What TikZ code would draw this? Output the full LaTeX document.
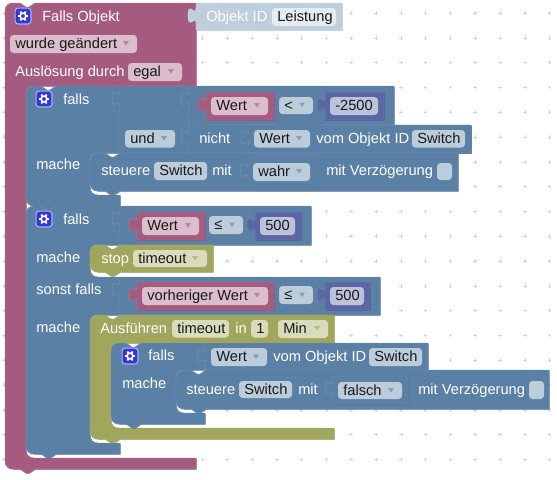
\documentclass[tikz,border=0pt]{standalone}
\usepackage{fontspec}
\setmainfont{Liberation Sans}
\definecolor{pu}{HTML}{A55B80}\definecolor{puL}{HTML}{B4738F}\definecolor{puD}{HTML}{8F4E6F}
\definecolor{bl}{HTML}{5B80A5}\definecolor{blL}{HTML}{7A97B4}\definecolor{blD}{HTML}{4E6F8F}
\definecolor{ol}{HTML}{A0A65B}\definecolor{olL}{HTML}{B0B575}\definecolor{olD}{HTML}{8A8F4E}
\definecolor{ma}{HTML}{5B67A5}\definecolor{maL}{HTML}{7D87B7}\definecolor{maD}{HTML}{495284}
\definecolor{sh}{HTML}{BFCEDC}\definecolor{shL}{HTML}{CFDAE5}\definecolor{shD}{HTML}{A9BBCD}
\definecolor{fpu}{HTML}{DBBDCC}\definecolor{fbl}{HTML}{BDCCDB}\definecolor{fol}{HTML}{D9DBBD}
\definecolor{fma}{HTML}{BDC2DB}\definecolor{fsh}{HTML}{E5EBF1}
\definecolor{gearblue}{HTML}{3535DC}\definecolor{gearrim}{HTML}{A9B4E6}
\tikzset{
  lab/.style={inner sep=0pt,anchor=base west,font=\fontsize{11}{13}\selectfont,text=white},
  flab/.style={lab,text=black!90},
  hi/.style={line width=.35pt},
  gridmark/.style={draw=black!16,line width=.45pt}
}
\newcommand\notchR[2]{-- (#1,#2) -- (#1+6,#2+4) -- (#1+9,#2+4) -- (#1+15,#2)}
\newcommand\notchL[2]{-- (#1+15,#2) -- (#1+9,#2+4) -- (#1+6,#2+4) -- (#1,#2)}
\newcommand\tabUp[2]{-- (#1,#2+20) .. controls (#1,#2+10) and (#1-8,#2+28) .. (#1-8,#2+12.5) .. controls (#1-8,#2-3) and (#1,#2+15) .. (#1,#2+5)}
\newcommand\blk[2]{%
  \fill[#1D,xshift=.4pt,yshift=-.4pt] #2;
  \filldraw[fill=#1,draw=#1L,hi] #2;}
\newcommand\valblk[5]{\blk{#1}{(#2,#4) -- (#3,#4) -- (#3,#5) -- (#2,#5) \tabUp{#2}{#4} -- cycle}}
\newcommand\stmt[5]{\blk{#1}{(#2,#4+8) .. controls (#2,#4+3) and (#2+3,#4) .. (#2+8,#4) \notchR{#2+15}{#4} -- (#3,#4) -- (#3,#5) \notchL{#2+15}{#5} -- (#2+8,#5) .. controls (#2+3,#5) and (#2,#5-3) .. (#2,#5-8) -- cycle}}
\newcommand\lab[4]{\node[lab] (#1) at (#2,#3+5) {#4};}
\newcommand\field[7]{%
  \fill[#6,rounded corners=2.6pt] (#2,#4) rectangle (#3,#5);
  \node[flab] (#1) at (#2+5,{(#4+#5)/2+4.7}) {#7};}
\newcommand\darr[3]{\fill[#3!75!white] (#1-3,#2-2) -- (#1+3,#2-2) -- (#1,#2+2.5) -- cycle;}
\newcommand\gear[2]{%
  \fill[gearrim,rounded corners=2.6pt] (#1-8.5,#2-8.5) rectangle (#1+8.5,#2+8.5);
  \fill[gearblue,rounded corners=2pt] (#1-7.3,#2-7.3) rectangle (#1+7.3,#2+7.3);
  \draw[white,line width=1.2pt] (#1,#2) circle[radius=2.9];
  \foreach \a in {0,60,...,300}{\draw[white,line width=1.35pt] ({#1+3.2*cos(\a)},{#2+3.2*sin(\a)}) -- ({#1+5.2*cos(\a)},{#2+5.2*sin(\a)});}}
\begin{document}
\begin{tikzpicture}[x=.75pt,y=-.75pt]
\useasboundingbox (0,0) rectangle (557,479);
\fill[white] (0,0) rectangle (557,479);
% workspace grid
\foreach \i in {0,...,22}{\foreach \j in {0,...,18}{
  \draw[gridmark] ({4+24.8*\i-1.8},{13+24.8*\j}) -- ({4+24.8*\i+1.8},{13+24.8*\j});
  \draw[gridmark] ({4+24.8*\i},{13+24.8*\j-1.8}) -- ({4+24.8*\i},{13+24.8*\j+1.8});
}}
% Falls Objekt (trigger)
\blk{pu}{(5,11) .. controls (5,6) and (8,3) .. (13,3) \notchR{20}{3} -- (196,3) -- (196,86) -- (34,86) .. controls (29,86) and (26,89) .. (26,94) -- (26,450) .. controls (26,455) and (29,458) .. (34,458) -- (196,458) -- (196,469) \notchL{20}{469} -- (13,469) .. controls (8,469) and (5,466) .. (5,461) -- cycle}
\valblk{sh}{196}{342}{3}{30}
\gear{23}{16}
\lab{tFalls}{42}{16}{Falls Objekt}
\field{fWurde}{10}{137}{35}{53}{fpu}{wurde geändert}\darr{126}{43}{pu}
\lab{tAusl}{15}{71}{Auslösung durch}
\field{fEgal}{128}{182}{63}{81}{fpu}{egal}\darr{171}{71}{pu}
\lab{tObj}{206}{16}{Objekt ID}
\field{fLeist}{272}{336}{8}{26}{fsh}{Leistung}
% falls 2 (with sonst falls)
\blk{bl}{(26,214) .. controls (26,209) and (29,206) .. (34,206) \notchR{41}{206} -- (120,206) -- (120,245) -- (98,245) .. controls (93,245) and (90,248) .. (90,253) -- (90,269) .. controls (90,274) and (93,277) .. (98,277) -- (120,277) -- (120,315) -- (98,315) .. controls (93,315) and (90,318) .. (90,323) -- (90,435) .. controls (90,440) and (93,443) .. (98,443) -- (120,443) -- (120,454) \notchL{41}{454} -- (34,454) .. controls (29,454) and (26,451) .. (26,446) -- cycle}
% falls 1
\blk{bl}{(26,94) .. controls (26,89) and (29,86) .. (34,86) \notchR{41}{86} -- (120,86) -- (120,153) -- (98,153) .. controls (93,153) and (90,156) .. (90,161) -- (90,187) .. controls (90,192) and (93,195) .. (98,195) -- (120,195) -- (120,206) \notchL{41}{206} -- (34,206) .. controls (29,206) and (26,203) .. (26,198) -- cycle}
\gear{44}{99}
\lab{tF1}{63}{99}{falls}
\lab{tM1}{36}{164}{mache}
% und
\valblk{bl}{120}{189}{86}{153}
\field{fUnd}{125}{175}{130}{147.5}{fbl}{und}\darr{164}{138}{bl}
% Wert < -2500
\valblk{bl}{189}{394}{86}{125}
\valblk{pu}{206}{274}{92}{120}
\field{fW1}{211}{268}{97}{115}{fpu}{Wert}\darr{257}{105}{pu}
\field{fLt}{279}{313}{97}{114}{fbl}{<}\darr{302}{104.5}{bl}
\valblk{ma}{325}{384}{92}{120}
\field{fM2500}{330}{378}{97}{115}{fma}{-2500}
% nicht
\valblk{bl}{189}{471}{125}{153}
\lab{tNicht}{199}{138}{nicht}
\valblk{bl}{249}{471}{125}{153}
\field{fW2}{254}{310}{130}{147.5}{fbl}{Wert}\darr{299}{138}{bl}
\lab{tVom1}{316}{138}{vom Objekt ID}
\field{fSw1}{412}{465}{130}{147.5}{fbl}{Switch}
% steuere 1
\stmt{bl}{90}{458}{153}{191}
\lab{tSt1}{101}{170}{steuere}
\field{fSw2}{154}{207}{162}{180}{fbl}{Switch}
\lab{tMit1}{212}{170}{mit}
\valblk{bl}{248}{318}{158}{186}
\field{fWahr}{253}{310}{163}{181}{fbl}{wahr}\darr{299}{171}{bl}
\lab{tVz1}{326}{170}{mit Verzögerung}
\fill[fbl,rounded corners=2.6pt] (437,163) rectangle (452,180);
% falls 2 contents
\gear{44}{219}
\lab{tF2}{63}{219}{falls}
\lab{tM2}{36}{257}{mache}
\lab{tSonst}{36}{289}{sonst falls}
\lab{tM3}{36}{327}{mache}
\valblk{bl}{120}{311}{206}{245}
\valblk{pu}{137}{205}{212}{240}
\field{fW3}{142}{199}{217}{235}{fpu}{Wert}\darr{188}{225}{pu}
\field{fLe1}{209}{243}{216}{234}{fbl}{≤}\darr{232}{224.5}{bl}
\valblk{ma}{255}{301}{212}{240}
\field{f500a}{260}{295}{217}{235}{fma}{500}
% stop
\stmt{ol}{90}{213}{245}{272}
\lab{tStop}{101}{258}{stop}
\field{fTo1}{133}{207}{250}{267}{fol}{timeout}\darr{195}{258}{ol}
% sonst falls value
\valblk{bl}{120}{380}{277}{315}
\valblk{pu}{137}{274}{282}{310}
\field{fVor}{142}{268}{287}{305}{fpu}{vorheriger Wert}\darr{257}{295}{pu}
\field{fLe2}{279}{313}{286}{304}{fbl}{≤}\darr{302}{294.5}{bl}
\valblk{ma}{325}{370}{282}{310}
\field{f500b}{330}{364}{287}{305}{fma}{500}
% Ausfuehren
\blk{ol}{(90,323) .. controls (90,318) and (93,315) .. (98,315) \notchR{105}{315} -- (334,315) -- (334,343) -- (119,343) .. controls (114,343) and (111,346) .. (111,351) -- (111,420) .. controls (111,425) and (114,428) .. (119,428) -- (334,428) -- (334,439) \notchL{105}{439} -- (98,439) .. controls (93,439) and (90,436) .. (90,431) -- cycle}
\lab{tAus}{100}{328}{Ausführen}
\field{fTo2}{172}{229}{320}{337.5}{fol}{timeout}
\lab{tIn}{235}{328}{in}
\field{fOne}{251}{268}{320}{337.5}{fol}{1}
\field{fMin}{278}{328}{320}{338}{fol}{Min}\darr{317}{328}{ol}
% inner falls
\blk{bl}{(111,351) .. controls (111,346) and (114,343) .. (119,343) \notchR{126}{343} -- (205,343) -- (205,370) -- (184,370) .. controls (179,370) and (176,373) .. (176,378) -- (176,405) .. controls (176,410) and (179,413) .. (184,413) -- (205,413) -- (205,424) \notchL{126}{424} -- (119,424) .. controls (114,424) and (111,421) .. (111,416) -- cycle}
\gear{130}{356}
\lab{tF3}{148}{355}{falls}
\lab{tM4}{122}{383}{mache}
\valblk{bl}{205}{428}{343}{370}
\field{fW4}{211}{267}{348}{366}{fbl}{Wert}\darr{256}{356.5}{bl}
\lab{tVom2}{273}{356}{vom Objekt ID}
\field{fSw3}{369}{422}{348}{366}{fbl}{Switch}
% steuere 2
\stmt{bl}{176}{549}{370}{409}
\lab{tSt2}{186}{389}{steuere}
\field{fSw4}{239}{292}{381}{398}{fbl}{Switch}
\lab{tMit2}{298}{389}{mit}
\valblk{bl}{333}{408}{376}{404}
\field{fFal}{338}{402}{382}{399}{fbl}{falsch}\darr{391}{390}{bl}
\lab{tVz2}{418}{389}{mit Verzögerung}
\fill[fbl,rounded corners=2.6pt] (529,381) rectangle (544,399);
\end{tikzpicture}
\end{document}
